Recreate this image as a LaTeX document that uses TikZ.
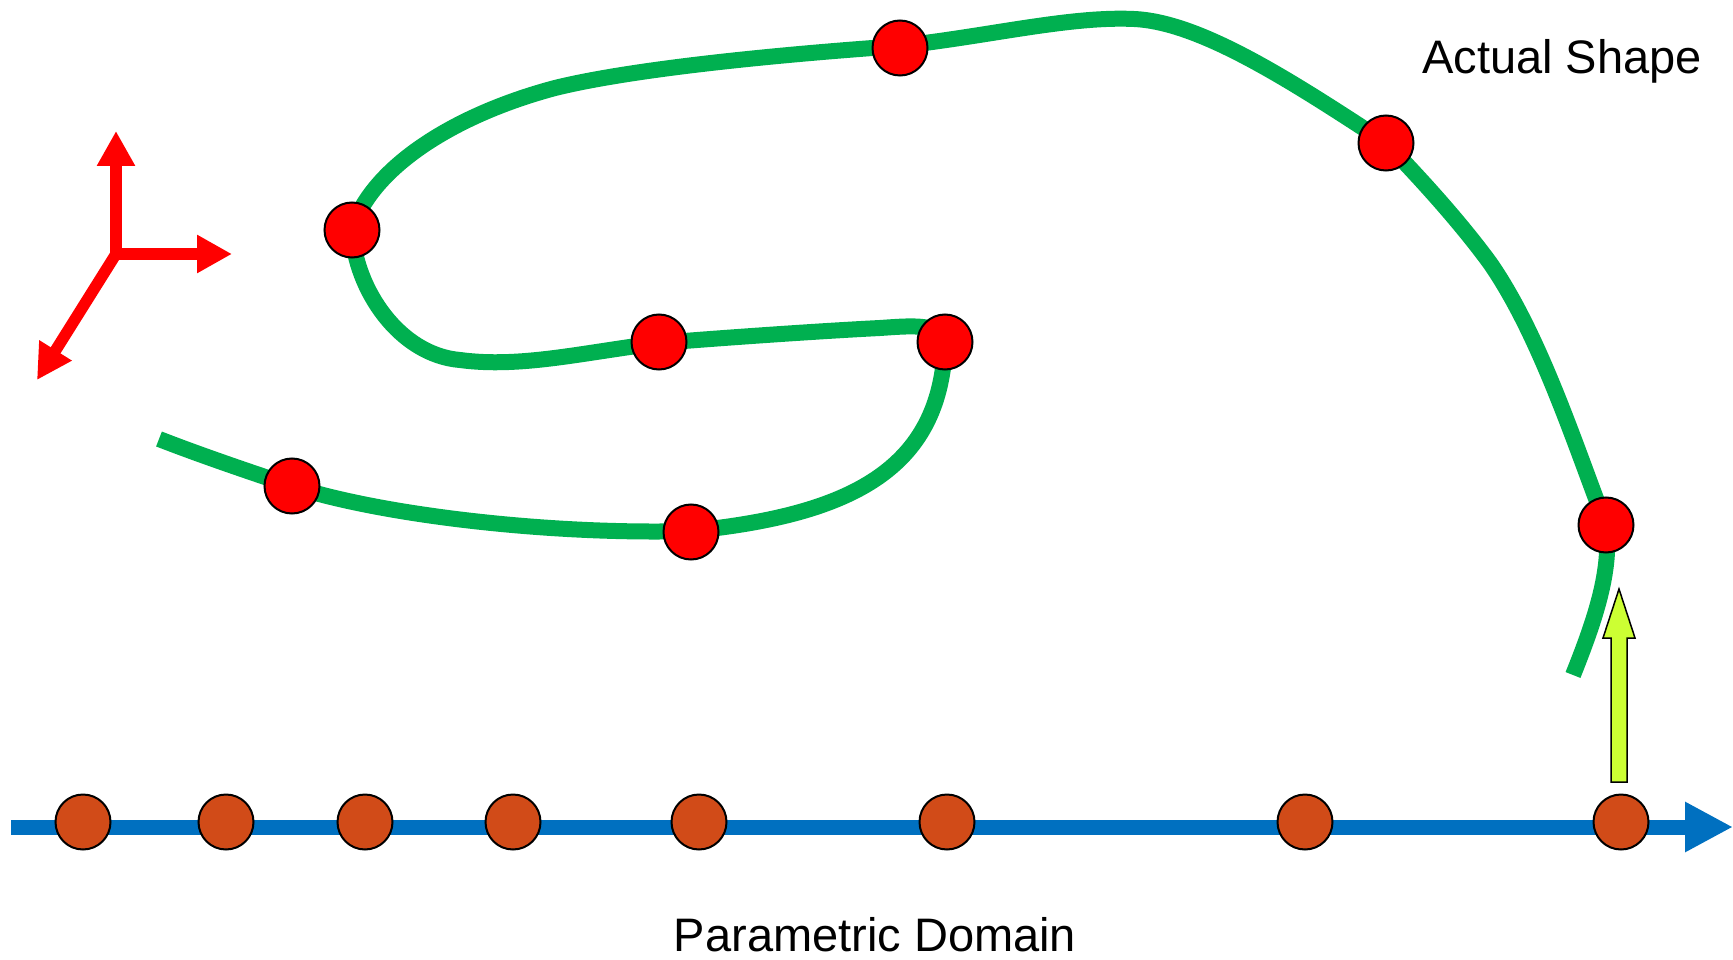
\documentclass[tikz,border=0pt]{standalone}
\usepackage{fontspec}
\setmainfont{Liberation Sans}
\usetikzlibrary{arrows.meta}
\definecolor{cgreen}{HTML}{00B050}
\definecolor{cblue}{HTML}{0070C0}
\definecolor{corange}{HTML}{D14B18}
\definecolor{cyellow}{HTML}{CCFF33}
\definecolor{cred}{HTML}{FF0000}
\begin{document}
\begin{tikzpicture}[x=1pt,y=-1pt,
  curveline/.style={draw=cgreen, line width=16pt, line cap=butt, line join=round},
  reddot/.style={circle, fill=cred, draw=black, line width=2pt, minimum size=55pt, inner sep=0pt},
  orangedot/.style={circle, fill=corange, draw=black, line width=2pt, minimum size=55pt, inner sep=0pt},
  axisarrow/.style={draw=cred, line width=11.5pt, -{Triangle[length=35pt,width=36pt]}},
  paramline/.style={draw=cblue, line width=15pt, -{Triangle[length=48pt,width=47pt]}},
  label/.style={font=\fontsize{47}{56}\selectfont, anchor=base, inner sep=0pt}]
\useasboundingbox (0,0) rectangle (1733,960);

% parametric domain
\coordinate (bs) at (11,827);
\coordinate (be) at (1733,827);
\draw[paramline] (bs) -- (be);
\foreach \x [count=\i] in {83,226,365,513,699,947,1305,1621}
  \node[orangedot] (p\i) at (\x,822) {};

% actual shape curve
\coordinate (c0) at (159,439);
\coordinate (cA) at (292,486);
\coordinate (cB) at (691,531);
\coordinate (cC) at (945,345);
\coordinate (cC2) at (880,328);
\coordinate (cD) at (659,343);
\coordinate (cL) at (460,360);
\coordinate (cE) at (352,230);
\coordinate (cU) at (555,88);
\coordinate (cF) at (900,46);
\coordinate (cT) at (1134,19);
\coordinate (cG) at (1386,143);
\coordinate (cR) at (1490,263);
\coordinate (cH) at (1606,525);
\coordinate (cEnd) at (1573,675);
\draw[curveline] (c0)
  .. controls (200,455) and (250,472) .. (cA)
  .. controls (380,515) and (550,535) .. (cB)
  .. controls (850,515) and (940,470) .. (cC)
  .. controls (945,322) and (910,326) .. (cC2)
  .. controls (820,331) and (720,338) .. (cD)
  .. controls (580,353) and (520,368) .. (cL)
  .. controls (400,355) and (355,290) .. (cE)
  .. controls (370,170) and (450,116) .. (cU)
  .. controls (640,67) and (800,53) .. (cF)
  .. controls (990,36) and (1070,16) .. (cT)
  .. controls (1200,22) and (1290,80) .. (cG)
  .. controls (1420,178) and (1460,222) .. (cR)
  .. controls (1540,335) and (1575,445) .. (cH)
  .. controls (1612,570) and (1595,620) .. (cEnd);

\node[reddot] (s1) at (292,486) {};
\node[reddot] (s2) at (691,532) {};
\node[reddot] (s3) at (945,342) {};
\node[reddot] (s4) at (659,342) {};
\node[reddot] (s5) at (352,230) {};
\node[reddot] (s6) at (900,48) {};
\node[reddot] (s7) at (1386,143) {};
\node[reddot] (s8) at (1606,525) {};

% coordinate axes
\coordinate (o) at (116,254);
\coordinate (ox) at (111,254);
\coordinate (oy) at (116,259);
\coordinate (ax) at (232,254);
\coordinate (ay) at (116,131);
\coordinate (az) at (37,380);
\draw[axisarrow] (oy) -- (ay);
\draw[axisarrow] (ox) -- (ax);
\draw[axisarrow] (o) -- (az);

% mapping arrow
\draw[fill=cyellow, draw=black, line width=1.5pt]
  (1611,782) -- (1627,782) -- (1627,638) -- (1635,638) -- (1619,589)
  -- (1603,638) -- (1611,638) -- cycle;

% labels
\node[label] (t1) at (1562,74) {Actual Shape};
\node[label] (t2) at (875,951) {Parametric Domain};
\end{tikzpicture}
\end{document}
